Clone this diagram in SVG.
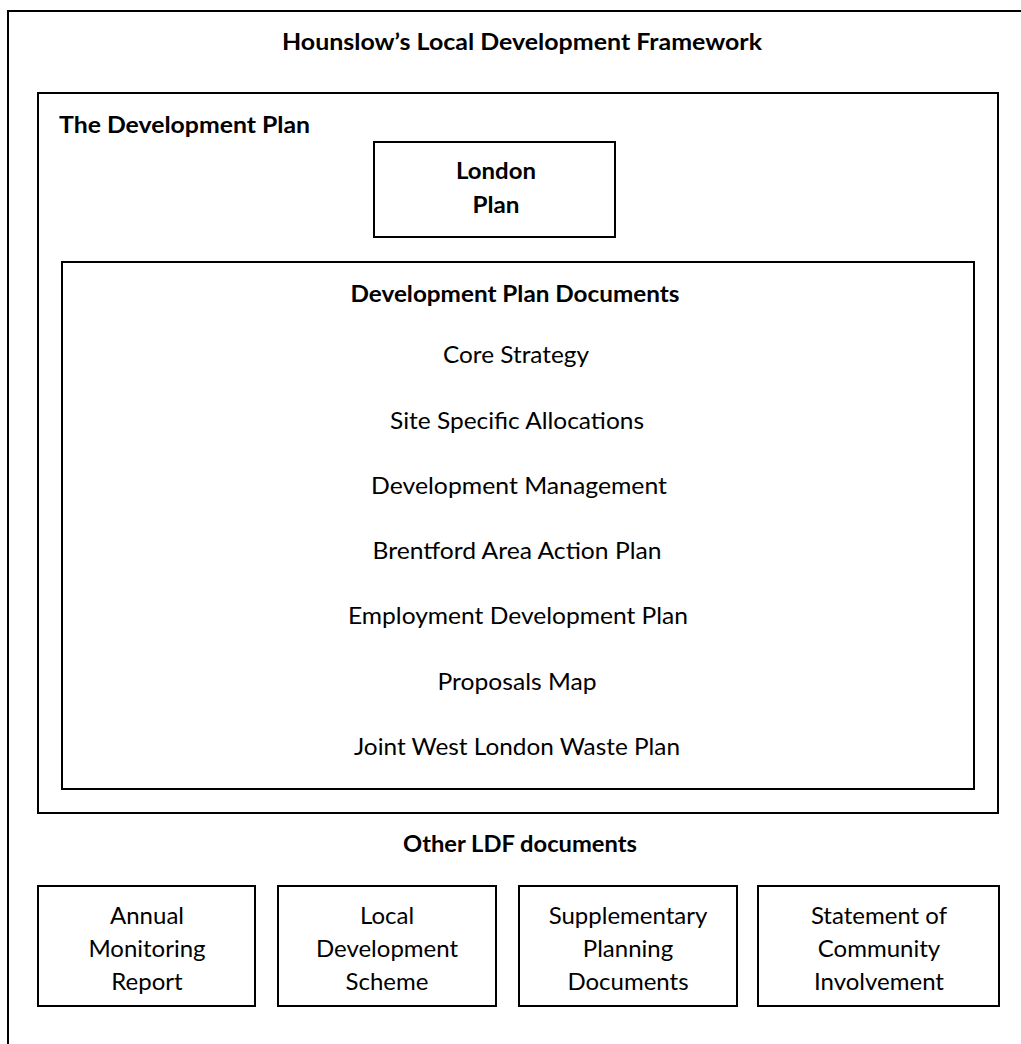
<svg xmlns="http://www.w3.org/2000/svg" width="1021" height="1044" viewBox="0 0 1021 1044">
<style>
.box{fill:none;stroke:#000;stroke-width:2}
text{font-family:Lato,"Open Sans","Liberation Sans",sans-serif;fill:#000;text-anchor:middle}
.b{font-weight:bold;font-size:23px}
.r{font-size:24px}
.s{font-size:24px}
</style>
<rect width="1021" height="1044" fill="#fff"/>
<g id="framework">
<rect class="box" x="8" y="11" width="1100" height="1100"/>
<text class="b" x="522" y="50" textLength="480" lengthAdjust="spacingAndGlyphs">Hounslow’s Local Development Framework</text>
</g>
<g id="development-plan">
<rect class="box" x="38" y="93" width="960" height="720"/>
<text class="b" x="59" y="133" style="text-anchor:start" textLength="251" lengthAdjust="spacingAndGlyphs">The Development Plan</text>
</g>
<g id="london-plan">
<rect class="box" x="374" y="142" width="241" height="95"/>
<text class="b" x="496" y="179" textLength="80" lengthAdjust="spacingAndGlyphs">London</text>
<text class="b" x="496" y="213" textLength="47" lengthAdjust="spacingAndGlyphs">Plan</text>
</g>
<g id="dpd">
<rect class="box" x="62" y="262" width="912" height="527"/>
<text class="b" x="515" y="302" textLength="329" lengthAdjust="spacingAndGlyphs">Development Plan Documents</text>
<text class="r" x="516" y="363" textLength="146" lengthAdjust="spacingAndGlyphs">Core Strategy</text>
<text class="r" x="517" y="429" textLength="254" lengthAdjust="spacingAndGlyphs">Site Specific Allocations</text>
<text class="r" x="519" y="494" textLength="296" lengthAdjust="spacingAndGlyphs">Development Management</text>
<text class="r" x="517" y="559" textLength="289" lengthAdjust="spacingAndGlyphs">Brentford Area Action Plan</text>
<text class="r" x="518" y="624" textLength="340" lengthAdjust="spacingAndGlyphs">Employment Development Plan</text>
<text class="r" x="517" y="690" textLength="159" lengthAdjust="spacingAndGlyphs">Proposals Map</text>
<text class="r" x="517" y="755" textLength="326" lengthAdjust="spacingAndGlyphs">Joint West London Waste Plan</text>
</g>
<g id="other-ldf">
<text class="b" x="520" y="852" textLength="234" lengthAdjust="spacingAndGlyphs">Other LDF documents</text>
</g>
<g id="amr">
<rect class="box" x="38" y="886" width="217" height="120"/>
<text class="s" x="147" y="924">Annual</text>
<text class="s" x="147" y="957">Monitoring</text>
<text class="s" x="147" y="990">Report</text>
</g>
<g id="lds">
<rect class="box" x="278" y="886" width="218" height="120"/>
<text class="s" x="387" y="924">Local</text>
<text class="s" x="387" y="957">Development</text>
<text class="s" x="387" y="990">Scheme</text>
</g>
<g id="spd">
<rect class="box" x="519" y="886" width="218" height="120"/>
<text class="s" x="628" y="924">Supplementary</text>
<text class="s" x="628" y="957">Planning</text>
<text class="s" x="628" y="990">Documents</text>
</g>
<g id="sci">
<rect class="box" x="758" y="886" width="241" height="120"/>
<text class="s" x="879" y="924">Statement of</text>
<text class="s" x="879" y="957">Community</text>
<text class="s" x="879" y="990">Involvement</text>
</g>
<g id="connectors"></g>
</svg>
